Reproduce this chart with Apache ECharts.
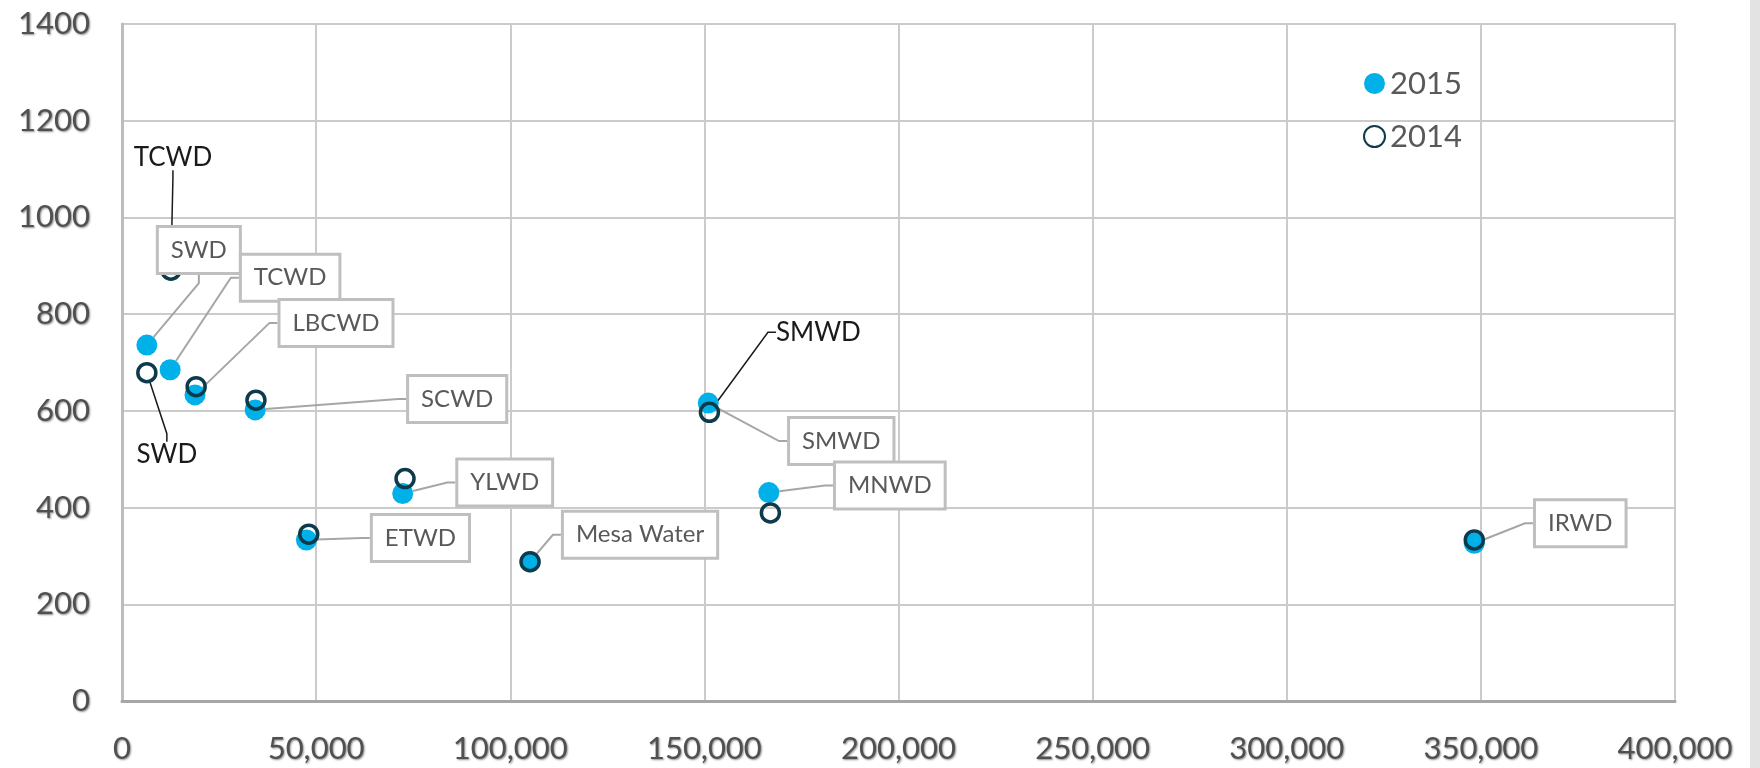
<!DOCTYPE html>
<html>
<head>
<meta charset="utf-8">
<script src="https://cdn.jsdelivr.net/npm/echarts@6/dist/echarts.min.js"></script>
<style>
  html, body { margin: 0; padding: 0; background: #e3e3e3; }
  #chart { width: 1750px; height: 768px; background: #ffffff; }
</style>
</head>
<body>
<div id="chart"></div>
<script>
// ---- Data ----
const names = ['SWD', 'TCWD', 'LBCWD', 'SCWD', 'ETWD', 'YLWD', 'Mesa Water', 'SMWD', 'MNWD', 'IRWD'];
const x2015 = [6400, 12400, 18800, 34300, 47500, 72300, 105100, 151000, 166600, 348300];
const y2015 = [736, 685, 633, 602, 333, 429, 288, 616, 431, 326];
const x2014 = [6400, 12600, 19100, 34500, 48100, 72900, 105100, 151300, 167000, 348300];
const y2014 = [679, 891, 650, 622, 345, 460, 288, 597, 389, 333];
const labeled2014 = ['TCWD', 'SWD', 'SMWD'];
const xTicks = { min: 0, max: 400000, interval: 50000 };
const yTicks = { min: 0, max: 1400, interval: 200 };
const seriesNames = ['2015', '2014'];

// ---- Label placement (pixel offsets from each point) ----
const offsets2015 = {
  'SWD': [52, -95], 'TCWD': [120, -92], 'LBCWD': [141, -72], 'SCWD': [202, -11],
  'ETWD': [114, -2], 'YLWD': [102, -11], 'Mesa Water': [110, -27],
  'SMWD': [133, 38], 'MNWD': [121, -7], 'IRWD': [106, -20]
};
const offsets2014 = { 'TCWD': [2, -113], 'SWD': [20, 82], 'SMWD': [109, -80] };

const FONT = 'Lato, "Open Sans", sans-serif';
const BLUE = '#00B0E8';
const DARK = '#0D3B4B';

const data2015 = names.map((n, i) => ({ name: n, value: [x2015[i], y2015[i]] }));
const data2014 = names.map((n, i) => ({
  name: n, value: [x2014[i], y2014[i]],
  label: { show: labeled2014.indexOf(n) >= 0 }
}));

const axisLabelStyle = {
  color: '#505050', fontSize: 31, fontFamily: FONT,
  textShadowColor: 'rgba(0,0,0,0.45)', textShadowBlur: 2,
  textShadowOffsetX: 1, textShadowOffsetY: 1, margin: 32
};

const chart = echarts.init(document.getElementById('chart'));
chart.setOption({
  animation: false,
  backgroundColor: '#ffffff',
  grid: { left: 122, top: 24, right: 75, bottom: 67, show: true, borderColor: '#c4c4c4', borderWidth: 2, backgroundColor: '#fff' },
  legend: {
    data: seriesNames, orient: 'vertical', left: 1358, top: 63,
    itemWidth: 21, itemHeight: 21, itemGap: 22, icon: 'circle',
    textStyle: { fontSize: 31, color: '#595959', fontFamily: FONT }
  },
  xAxis: {
    type: 'value', min: xTicks.min, max: xTicks.max, interval: xTicks.interval,
    axisLine: { show: true, onZero: false, lineStyle: { color: '#a6a6a6', width: 3 } },
    axisTick: { show: false },
    splitLine: { show: true, lineStyle: { color: '#cbcbcb', width: 2 } },
    axisLabel: Object.assign({ formatter: v => v.toLocaleString('en-US') }, axisLabelStyle)
  },
  yAxis: {
    type: 'value', min: yTicks.min, max: yTicks.max, interval: yTicks.interval,
    axisLine: { show: true, lineStyle: { color: '#bdbdbd', width: 3 } },
    axisTick: { show: false },
    splitLine: { show: true, lineStyle: { color: '#cbcbcb', width: 2 } },
    axisLabel: Object.assign({ formatter: v => String(v) }, axisLabelStyle)
  },
  series: [
    {
      name: seriesNames[0], type: 'scatter', data: data2015,
      symbol: 'circle', symbolSize: 21,
      itemStyle: { color: BLUE, opacity: 1 },
      label: {
        show: true, position: 'inside', formatter: p => p.name,
        color: '#595959', fontSize: 24, fontFamily: FONT,
        backgroundColor: '#ffffff', borderColor: '#bfbfbf', borderWidth: 3,
        padding: [10, 12]
      },
      labelLine: { show: true, length2: 8, lineStyle: { color: '#a6a6a6', width: 2 } },
      labelLayout: p => { const o = offsets2015[names[p.dataIndex]]; return { dx: o[0], dy: o[1] }; },
      emphasis: { disabled: true }
    },
    {
      name: seriesNames[1], type: 'scatter', data: data2014,
      symbol: 'circle', symbolSize: 18,
      itemStyle: { color: 'rgba(255,255,255,0)', borderColor: DARK, borderWidth: 3.5, opacity: 1 },
      label: {
        show: false, position: 'inside', formatter: p => p.name,
        color: '#1a1a1a', fontSize: 26, fontFamily: FONT
      },
      labelLine: { show: true, length2: 8, lineStyle: { color: '#1a1a1a', width: 1.5 } },
      labelLayout: p => { const o = offsets2014[names[p.dataIndex]] || [0, 0]; return { dx: o[0], dy: o[1] }; },
      emphasis: { disabled: true }
    }
  ]
});
</script>
</body>
</html>
